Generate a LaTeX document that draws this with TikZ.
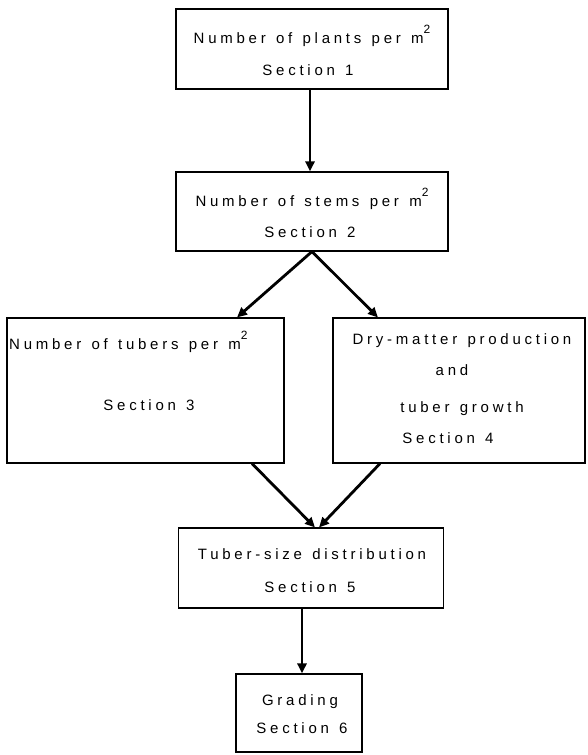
\documentclass[tikz,border=0pt]{standalone}
\usepackage{fontspec}
\setmainfont{Liberation Sans}[LetterSpace=25,WordSpace=1.3]
\usetikzlibrary{arrows.meta,calc}
\newcommand{\sqm}{m\raisebox{1.3ex}{\fontsize{12}{13}\selectfont 2}}
\tikzset{
  box/.style={draw, line width=1.1pt, rectangle, inner sep=0pt},
  txt/.style={font=\fontsize{15}{17}\selectfont, inner sep=0pt, anchor=center},
  flow/.style={line width=2.8pt, -{Triangle[length=10pt,width=9pt]}, shorten >=0pt}
}
\begin{document}
\begin{tikzpicture}[x=1pt,y=-1pt]
\useasboundingbox (0,0) rectangle (587,755);
% boxes
\node[box, minimum width=272pt, minimum height=80pt] (b1) at (312,49) {};
\node[box, minimum width=272pt, minimum height=79pt] (b2) at (312,211.5) {};
\node[box, minimum width=277pt, minimum height=145pt] (b3) at (145.5,390.5) {};
\node[box, minimum width=252pt, minimum height=145pt] (b4) at (459,390.5) {};
\node[box, minimum width=265pt, minimum height=80pt] (b5) at (311,568) {};
\node[box, minimum width=126pt, minimum height=78pt] (b6) at (299,713) {};
% texts
\node[txt] (t1a) at (312,36) {Number of plants per \sqm};
\node[txt] (t1b) at (308,70) {Section 1};
\node[txt] (t2a) at (312,199) {Number of stems per \sqm};
\node[txt] (t2b) at (310,232) {Section 2};
\node[txt, anchor=west] (t3a) at (9,342) {Number of tubers per \sqm};
\node[txt] (t3b) at (149,405) {Section 3};
\node[txt] (t4a) at (462,341) {Dry-matter production};
\node[txt] (t4b) at (452,370) {and};
\node[txt] (t4c) at (462,409) {tuber growth};
\node[txt] (t4d) at (448,438) {Section 4};
\node[txt] (t5a) at (312,554) {Tuber-size distribution};
\node[txt] (t5b) at (310,587) {Section 5};
\node[txt] (t6a) at (300,702) {Grading};
\node[txt] (t6b) at (302,728) {Section 6};
% connectors
\coordinate (s2) at ($(b2.south)+(0,0)$);
\coordinate (m5) at ($(b5.north)+(6,0)$);
\draw[flow] ([xshift=-2pt]b1.south) -- ([xshift=-2pt]b2.north);
\draw[flow] (s2) -- ([xshift=91.5pt]b3.north);
\draw[flow] (s2) -- ([xshift=-81pt]b4.north);
\draw[flow] ([xshift=106.5pt]b3.south) -- ([xshift=-2pt]m5);
\draw[flow] ([xshift=-79pt]b4.south) -- ([xshift=2pt]m5);
\draw[flow] ([xshift=-9pt]b5.south) -- ([xshift=3pt]b6.north);
\end{tikzpicture}
\end{document}
